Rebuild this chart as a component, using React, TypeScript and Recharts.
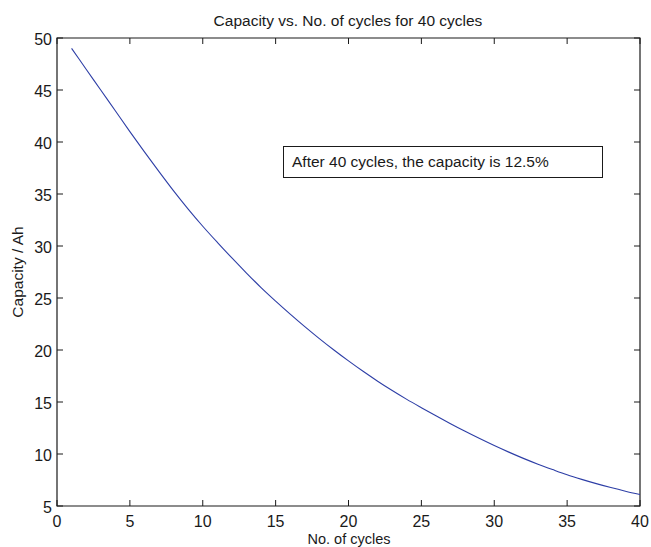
import { LineChart, Line, XAxis, YAxis, ReferenceArea } from "recharts";

const cycles = [
  1, 2, 3, 4, 5, 6, 7, 8, 9, 10, 11, 12, 13, 14, 15, 16, 17, 18, 19, 20,
  21, 22, 23, 24, 25, 26, 27, 28, 29, 30, 31, 32, 33, 34, 35, 36, 37, 38, 39, 40,
];

const capacity = [
  49.0, 47.0, 45.0, 43.0, 41.0, 39.05, 37.15, 35.3, 33.55, 31.9,
  30.35, 28.85, 27.4, 26.0, 24.7, 23.45, 22.25, 21.1, 20.0, 18.95,
  17.95, 17.0, 16.1, 15.25, 14.45, 13.67, 12.91, 12.18, 11.48, 10.81,
  10.18, 9.58, 9.02, 8.5, 8.0, 7.56, 7.15, 6.77, 6.42, 6.1,
];

const xTicks = [0, 5, 10, 15, 20, 25, 30, 35, 40];
const yTicks = [5, 10, 15, 20, 25, 30, 35, 40, 45, 50];

const data = cycles.map((c, i) => ({ cycle: c, capacity: capacity[i] }));

const W = 651;
const H = 547;
const PLOT_LEFT = 57;
const PLOT_RIGHT = 640;
const PLOT_TOP = 38;
const PLOT_BOTTOM = 506;
const TICK_LEN = 6;
const FONT = "'Liberation Sans', Arial, Helvetica, sans-serif";
const INK = "#1a1a1a";

// matlab-style ticks: labels outside, short marks pointing into the box on both sides
function XTick(props: any) {
  const { x, payload } = props;
  return (
    <g>
      <line x1={x} x2={x} y1={PLOT_BOTTOM} y2={PLOT_BOTTOM - TICK_LEN} stroke={INK} />
      <line x1={x} x2={x} y1={PLOT_TOP} y2={PLOT_TOP + TICK_LEN} stroke={INK} />
      <text x={x} y={PLOT_BOTTOM + 20.5} textAnchor="middle" fontSize={16} fontFamily={FONT} fill={INK}>
        {payload.value}
      </text>
    </g>
  );
}

function YTick(props: any) {
  const { y, payload } = props;
  return (
    <g>
      <line x1={PLOT_LEFT} x2={PLOT_LEFT + TICK_LEN} y1={y} y2={y} stroke={INK} />
      <line x1={PLOT_RIGHT} x2={PLOT_RIGHT - TICK_LEN} y1={y} y2={y} stroke={INK} />
      <text x={PLOT_LEFT - 5} y={y + 6.5} textAnchor="end" fontSize={16} fontFamily={FONT} fill={INK}>
        {payload.value}
      </text>
    </g>
  );
}

export default function App() {
  return (
    <div style={{ position: "absolute", left: 0, top: 0, width: W, height: H, background: "#fff" }}>
      <LineChart
        width={W}
        height={H}
        data={data}
        margin={{ top: PLOT_TOP, right: W - PLOT_RIGHT, bottom: 11, left: 0 }}
      >
        <XAxis
          dataKey="cycle"
          type="number"
          domain={[0, 40]}
          ticks={xTicks}
          height={H - PLOT_BOTTOM - 11}
          axisLine={false}
          tickLine={false}
          tick={<XTick />}
          interval={0}
        />
        <YAxis
          type="number"
          domain={[5, 50]}
          ticks={yTicks}
          width={PLOT_LEFT}
          axisLine={false}
          tickLine={false}
          tick={<YTick />}
          interval={0}
        />
        <ReferenceArea x1={0} x2={40} y1={5} y2={50} fill="none" stroke={INK} strokeWidth={1.2} fillOpacity={0} />
        <Line
          dataKey="capacity"
          type="monotone"
          stroke="#2d3ea6"
          strokeWidth={1.1}
          dot={false}
          isAnimationActive={false}
        />
      </LineChart>
      <svg
        width={W}
        height={H}
        style={{ position: "absolute", left: 0, top: 0, pointerEvents: "none" }}
        fontFamily={FONT}
        fill={INK}
      >
        <text x={348} y={25.5} textAnchor="middle" fontSize={15.5}>
          Capacity vs. No. of cycles for 40 cycles
        </text>
        <text x={349} y={543.5} textAnchor="middle" fontSize={14.5}>
          No. of cycles
        </text>
        <text transform="translate(23, 272) rotate(-90)" textAnchor="middle" fontSize={15.5}>
          Capacity / Ah
        </text>
        <rect x={283.5} y={146.5} width={319} height={31} fill="#fff" stroke={INK} strokeWidth={1} />
        <text x={292} y={167} fontSize={15.5}>
          After 40 cycles, the capacity is 12.5%
        </text>
      </svg>
    </div>
  );
}
